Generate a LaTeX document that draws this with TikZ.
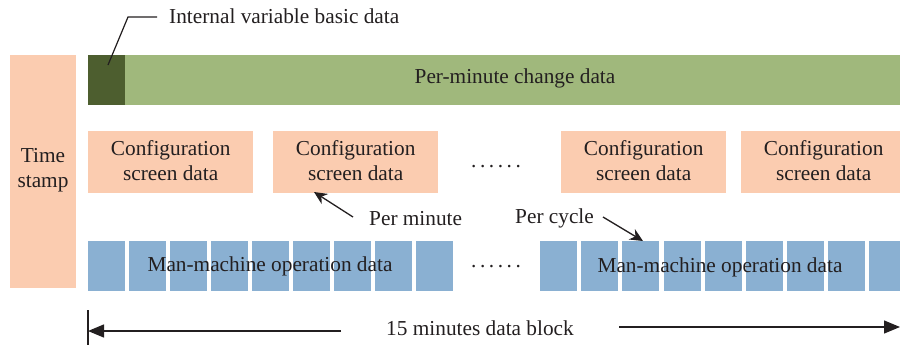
\documentclass[tikz,border=0pt]{standalone}
\usepackage{fontspec}
\setmainfont{Liberation Serif}
\usetikzlibrary{arrows.meta}
\definecolor{salmon}{HTML}{FBCCB0}
\definecolor{lightgreen}{HTML}{A0B87C}
\definecolor{darkgreen}{HTML}{4D5E2F}
\definecolor{steelblue}{HTML}{8AB0D2}
\definecolor{ink}{HTML}{231F20}
\tikzset{
  box/.style={anchor=north west, inner sep=0pt, draw=none},
  cfgbox/.style={box, fill=salmon, minimum width=165pt, minimum height=62pt},
  blk/.style={box, fill=steelblue, minimum width=37pt, minimum height=50pt},
  lbl/.style={text=ink, inner sep=0pt, font=\fontsize{21.3}{25}\selectfont, align=center},
  pointer/.style={draw=ink, line width=1.3pt, -{Stealth[length=13pt,width=12pt]}},
  span/.style={draw=ink, line width=1.3pt, -{Triangle[length=16pt,width=13pt]}}
}
\begin{document}
\begin{tikzpicture}[x=1pt,y=-1pt]
\useasboundingbox (0,0) rectangle (900,346);

% time stamp column
\node[box, fill=salmon, minimum width=66pt, minimum height=233pt] (ts) at (10,55) {};
\node[lbl] (tstext) at (43,170) {Time\\stamp};

% per-minute change bar
\node[box, fill=lightgreen, minimum width=775pt, minimum height=50pt] (chg) at (125,55) {};
\node[box, fill=darkgreen, minimum width=37pt, minimum height=50pt] (ivb) at (88,55) {};
\node[lbl] (chgtext) at (515,78) {Per-minute change data};

% leader to internal variable basic data
\coordinate (lead) at (108,65);
\coordinate (bend) at (128,17);
\coordinate (leadend) at (157,17);
\node[lbl, anchor=west] (ivbtext) at (169,16) {Internal variable basic data};
\draw[ink, line width=1.2pt] (lead) -- (bend) -- (leadend);

% configuration screen data
\foreach \n/\x in {cfg1/88, cfg2/273, cfg3/561, cfg4/741} {
  \node[cfgbox] (\n) at (\x,131) {};
  \node[lbl, yshift=2pt] (\n text) at (\n) {Configuration\\screen data};
}
\node[lbl] (dots1) at (496,167) {.\,.\,.\,.\,.\,.};

% man-machine operation blocks
\foreach \i in {0,...,8} {
  \node[blk] (bl\i) at ({88+41*\i},241) {};
}
\foreach \i in {0,...,7} {
  \node[blk] (br\i) at ({540+41.1*\i},241) {};
}
\node[blk, minimum width=31pt] (br8) at (869,241) {};
\node[lbl] (mm1) at (270,266) {Man-machine operation data};
\node[lbl] (mm2) at (720,267) {Man-machine operation data};
\node[lbl] (dots2) at (496,267) {.\,.\,.\,.\,.\,.};

% rate annotations
\node[lbl, anchor=west] (pm) at (369,219) {Per minute};
\node[lbl, anchor=west] (pc) at (515,218) {Per cycle};
\coordinate (pmtail) at (353,217);
\coordinate (pmtip) at (314,192);
\coordinate (pctail) at (603,217);
\coordinate (pctip) at (643,241);
\draw[pointer] (pmtail) -- (pmtip);
\draw[pointer] (pctail) -- (pctip);

% 15 minute span
\coordinate (tickt) at (88,310);
\coordinate (tickb) at (88,345);
\coordinate (ltail) at (341,331);
\coordinate (lhead) at (88,331);
\coordinate (rtail) at (619,327);
\coordinate (rhead) at (900,327);
\draw[ink, line width=1.5pt] (tickt) -- (tickb);
\node[lbl] (span) at (480,328) {15 minutes data block};
\draw[span] (ltail) -- (lhead);
\draw[span] (rtail) -- (rhead);
\end{tikzpicture}
\end{document}
